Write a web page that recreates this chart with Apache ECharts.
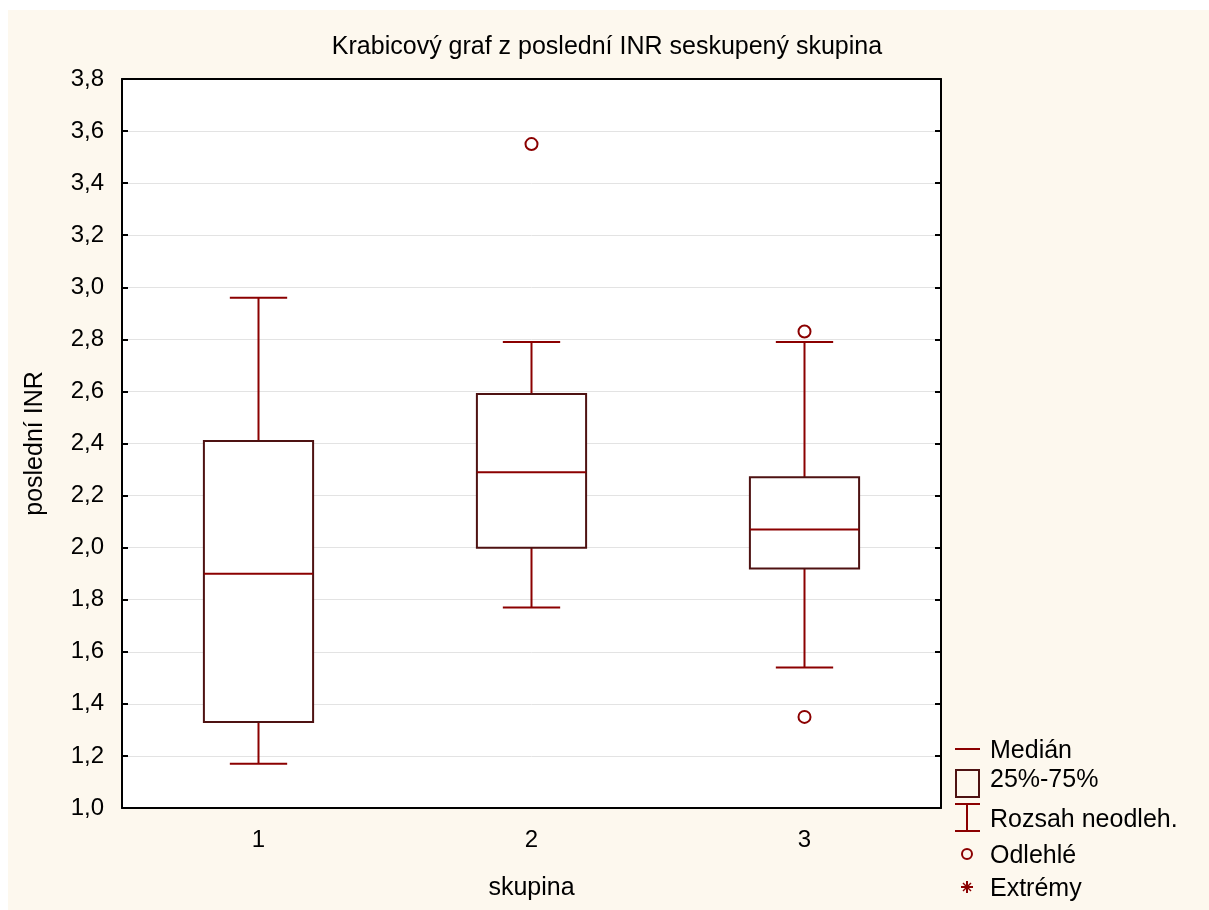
<!DOCTYPE html>
<html>
<head>
<meta charset="utf-8">
<script src="https://cdn.jsdelivr.net/npm/echarts@6/dist/echarts.min.js"></script>
<style>
html,body{margin:0;padding:0;background:#ffffff;width:1209px;height:910px;overflow:hidden;}
#chart{position:absolute;left:8px;top:10px;width:1201px;height:900px;background:#fdf8ee;}
</style>
</head>
<body>
<div id="chart"></div>
<script>
// Data
var categories = ['1', '2', '3'];
var whiskerLow = [1.17, 1.77, 1.54];
var q1 = [1.33, 2.00, 1.92];
var medians = [1.90, 2.29, 2.07];
var q3 = [2.41, 2.59, 2.27];
var whiskerHigh = [2.96, 2.79, 2.79];
var outlierGroup = [1, 2, 2];
var outlierValue = [3.55, 2.83, 1.35];
var legendLabels = ['Medián', '25%-75%', 'Rozsah neodleh.', 'Odlehlé', 'Extrémy'];

var RED = '#8b0000';
var DARK = '#4e1212';
var FONT = '"Liberation Sans", Arial, sans-serif';

var boxData = categories.map(function (c, i) {
  return [i, whiskerLow[i], q1[i], medians[i], q3[i], whiskerHigh[i]];
});
var outlierData = outlierValue.map(function (v, i) { return [outlierGroup[i], v]; });

function renderBox(params, api) {
  var x = api.value(0);
  var pMin = api.coord([x, api.value(1)]);
  var pQ1 = api.coord([x, api.value(2)]);
  var pMed = api.coord([x, api.value(3)]);
  var pQ3 = api.coord([x, api.value(4)]);
  var pMax = api.coord([x, api.value(5)]);
  var band = api.size([1, 0])[0];
  var bw = band * 0.4;
  var cw = band * 0.21;
  var cx = pMed[0];
  var redStyle = { stroke: RED, lineWidth: 2, fill: null };
  return {
    type: 'group',
    children: [
      { type: 'line', shape: { x1: cx, y1: pMax[1], x2: cx, y2: pQ3[1] }, style: redStyle },
      { type: 'line', shape: { x1: cx, y1: pQ1[1], x2: cx, y2: pMin[1] }, style: redStyle },
      { type: 'line', shape: { x1: cx - cw / 2, y1: pMax[1], x2: cx + cw / 2, y2: pMax[1] }, style: redStyle },
      { type: 'line', shape: { x1: cx - cw / 2, y1: pMin[1], x2: cx + cw / 2, y2: pMin[1] }, style: redStyle },
      { type: 'rect', shape: { x: cx - bw / 2, y: pQ3[1], width: bw, height: pQ1[1] - pQ3[1] },
        style: { stroke: DARK, lineWidth: 2, fill: '#ffffff' } },
      { type: 'line', shape: { x1: cx - bw / 2, y1: pMed[1], x2: cx + bw / 2, y2: pMed[1] }, style: redStyle }
    ]
  };
}

var chart = echarts.init(document.getElementById('chart'));
var ly = [739, 768, 808, 844, 877];
var sx = 959, sy = 877, sr = 6;
var legendGraphics = [
  { type: 'line', shape: { x1: 947, y1: ly[0], x2: 972, y2: ly[0] }, style: { stroke: RED, lineWidth: 2 } },
  { type: 'rect', shape: { x: 948, y: 760, width: 23, height: 27 }, style: { stroke: DARK, lineWidth: 2, fill: 'none' } },
  { type: 'line', shape: { x1: 947, y1: 794, x2: 972, y2: 794 }, style: { stroke: RED, lineWidth: 2 } },
  { type: 'line', shape: { x1: 959, y1: 794, x2: 959, y2: 821 }, style: { stroke: RED, lineWidth: 2 } },
  { type: 'line', shape: { x1: 947, y1: 821, x2: 972, y2: 821 }, style: { stroke: RED, lineWidth: 2 } },
  { type: 'circle', shape: { cx: 959, cy: ly[3], r: 5 }, style: { stroke: RED, lineWidth: 2, fill: 'none' } },
  { type: 'line', shape: { x1: sx, y1: sy - sr, x2: sx, y2: sy + sr }, style: { stroke: RED, lineWidth: 2 } },
  { type: 'line', shape: { x1: sx - sr, y1: sy, x2: sx + sr, y2: sy }, style: { stroke: RED, lineWidth: 2 } },
  { type: 'line', shape: { x1: sx - 4, y1: sy - 4, x2: sx + 4, y2: sy + 4 }, style: { stroke: RED, lineWidth: 1.5 } },
  { type: 'line', shape: { x1: sx - 4, y1: sy + 4, x2: sx + 4, y2: sy - 4 }, style: { stroke: RED, lineWidth: 1.5 } }
];
legendLabels.forEach(function (t, i) {
  legendGraphics.push({ type: 'text', x: 982, y: ly[i] + 2, style: { text: t, fill: '#000', font: '25px ' + FONT, verticalAlign: 'middle' } });
});

var yLabelFmt = function (v) { return v.toFixed(1).replace('.', ','); };

chart.setOption({
  animation: false,
  backgroundColor: 'transparent',
  title: {
    text: 'Krabicový graf z poslední INR seskupený skupina',
    left: 594, top: 20, textAlign: 'center',
    textStyle: { fontFamily: FONT, fontSize: 25, fontWeight: 'normal', color: '#000' }
  },
  grid: { left: 114, right: 268, top: 69, bottom: 102, show: true, backgroundColor: '#ffffff', borderWidth: 0 },
  xAxis: [
    {
      type: 'category', data: categories, position: 'bottom',
      name: 'skupina', nameLocation: 'middle', nameGap: 68,
      nameTextStyle: { fontFamily: FONT, fontSize: 25, color: '#000' },
      axisLine: { lineStyle: { color: '#000', width: 2 } },
      axisTick: { alignWithLabel: true, inside: true, length: 6, lineStyle: { color: '#000', width: 2 } },
      axisLabel: { fontFamily: FONT, fontSize: 24, color: '#000', margin: 20 },
      splitLine: { show: false }
    },
    {
      type: 'category', data: categories, position: 'top',
      axisLine: { lineStyle: { color: '#000', width: 2 } },
      axisTick: { alignWithLabel: true, inside: true, length: 6, lineStyle: { color: '#000', width: 2 } },
      axisLabel: { show: false }, splitLine: { show: false }
    }
  ],
  yAxis: [
    {
      type: 'value', min: 1.0, max: 3.8, interval: 0.2, position: 'left',
      name: 'poslední INR', nameLocation: 'middle', nameGap: 74, nameRotate: 90,
      nameTextStyle: { fontFamily: FONT, fontSize: 25, color: '#000' },
      axisLine: { show: true, lineStyle: { color: '#000', width: 2 } },
      axisTick: { show: true, inside: true, length: 6, lineStyle: { color: '#000', width: 2 } },
      axisLabel: { fontFamily: FONT, fontSize: 24, color: '#000', margin: 18, formatter: yLabelFmt },
      splitLine: { show: true, lineStyle: { color: '#e3e3e3', width: 1 } }
    },
    {
      type: 'value', min: 1.0, max: 3.8, interval: 0.2, position: 'right',
      axisLine: { show: true, lineStyle: { color: '#000', width: 2 } },
      axisTick: { show: true, inside: true, length: 6, lineStyle: { color: '#000', width: 2 } },
      axisLabel: { show: false }, splitLine: { show: false }
    }
  ],
  series: [
    { type: 'custom', xAxisIndex: 0, yAxisIndex: 0, renderItem: renderBox, data: boxData, z: 3,
      encode: { x: 0, y: [1, 2, 3, 4, 5] } },
    { type: 'scatter', xAxisIndex: 0, yAxisIndex: 0, data: outlierData, symbol: 'circle', symbolSize: 12, z: 4,
      itemStyle: { color: '#ffffff', borderColor: RED, borderWidth: 2, opacity: 1 } }
  ],
  graphic: legendGraphics
});
</script>
</body>
</html>
